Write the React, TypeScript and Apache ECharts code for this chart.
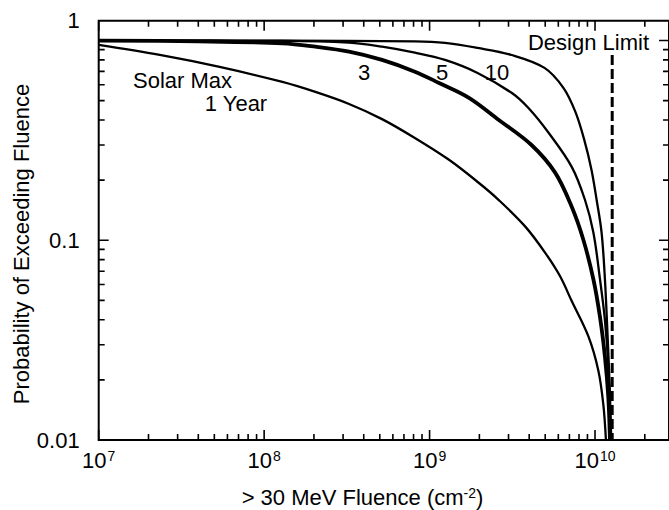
import React, { useEffect, useRef } from 'react';
import * as echarts from 'echarts';

// Fluence (cm^-2) vs probability of exceeding fluence
const curve1Year: [number, number][] = [
  [1e7, 0.95], [2.34e7, 0.846], [5.38e7, 0.737], [1.29e8, 0.62], [2.04e8, 0.5525],
  [3.26e8, 0.481], [5.16e8, 0.404], [8.15e8, 0.325], [1.31e9, 0.2527], [1.98e9, 0.194],
  [2.61e9, 0.1594], [3.79e9, 0.117], [5.0e9, 0.0865], [6.15e9, 0.066], [7.23e9, 0.0496],
  [9.12e9, 0.033], [1.047e10, 0.0223], [1.122e10, 0.0151], [1.164e10, 0.01],
];
const curve3Year: [number, number][] = [
  [1e7, 0.998], [4e7, 0.99], [1.29e8, 0.968], [2.04e8, 0.931], [3.26e8, 0.879], [5.16e8, 0.799],
  [8.15e8, 0.698], [1.14e9, 0.613], [1.73e9, 0.5164], [2.61e9, 0.401], [4.13e9, 0.2997],
  [5.74e9, 0.218], [7.23e9, 0.147], [8.5e9, 0.1005], [9.78e9, 0.0636], [1.072e10, 0.0412],
  [1.148e10, 0.0261], [1.203e10, 0.0164], [1.231e10, 0.01],
];
const curve5Year: [number, number][] = [
  [1e7, 0.998], [1.29e8, 0.995], [3.26e8, 0.975], [5.16e8, 0.931], [8.15e8, 0.869],
  [1.24e9, 0.799], [1.95e9, 0.688], [3.13e9, 0.547], [3.96e9, 0.459], [5.24e9, 0.345],
  [7.23e9, 0.233], [8.7e9, 0.159], [9.78e9, 0.109], [1.072e10, 0.0636], [1.148e10, 0.0398],
  [1.203e10, 0.0233], [1.245e10, 0.01],
];
const curve10Year: [number, number][] = [
  [1e7, 0.998], [1.29e8, 0.998], [8.15e8, 0.989], [1.24e9, 0.972], [1.95e9, 0.917],
  [3.13e9, 0.846], [4.95e9, 0.729], [6.44e9, 0.579], [7.61e9, 0.439], [8.61e9, 0.318],
  [9.51e9, 0.226], [1.023e10, 0.159], [1.096e10, 0.109], [1.148e10, 0.0636],
  [1.194e10, 0.0317], [1.227e10, 0.0181], [1.253e10, 0.01],
];
const designLimit: [number, number][] = [[1.27e10, 0.846], [1.27e10, 0.01]];

const xDecades = [7, 8, 9, 10];
const yDecades = [-2, -1, 0];
const tickMultipliers = [1, 2, 3, 4, 5, 6, 7, 8, 9];
const X_MIN = 1e7;
const X_MAX = 2.8e10;
const Y_MIN = 0.01;
const Y_MAX = 1.256;

const FONT = '"Liberation Sans", Arial, Helvetica, sans-serif';
const GRID_LEFT = 98.7;
const GRID_TOP = 20.7;
const GRID_W = 572.3;
const GRID_H = 419.3;
const MAJOR = 10;
const MINOR = 6;
const TW = 1.6;

// factor in data space that spans `px` pixels along each log axis
const kx = (px: number) => Math.pow(10, (px * Math.log10(X_MAX / X_MIN)) / GRID_W);
const ky = (px: number) => Math.pow(10, (px * Math.log10(Y_MAX / Y_MIN)) / GRID_H);

type Side = 'bottom' | 'top' | 'left' | 'right';
const GAP: any = ['-', '-'];

function tickData(side: Side): any[] {
  const out: any[] = [];
  const horizontal = side === 'bottom' || side === 'top';
  const decades = horizontal ? xDecades : yDecades;
  const maxV = horizontal ? X_MAX : Y_MAX;
  decades.forEach((d) =>
    tickMultipliers.forEach((m) => {
      const v = m * Math.pow(10, d);
      if (v > maxV) return;
      const len = m === 1 ? MAJOR : MINOR;
      if (side === 'bottom') out.push([v, Y_MIN], [v, Y_MIN * ky(len)], GAP);
      else if (side === 'top') out.push([v, Y_MAX], [v, Y_MAX / ky(len)], GAP);
      else if (side === 'left') out.push([X_MIN, v], [X_MIN * kx(len), v], GAP);
      else out.push([X_MAX, v], [X_MAX / kx(len), v], GAP);
    })
  );
  return out;
}

function tickSeries(side: Side) {
  return {
    name: `ticks-${side}`,
    type: 'line',
    data: tickData(side),
    symbol: 'none',
    connectNulls: false,
    silent: true,
    lineStyle: { color: '#000', width: TW, cap: 'butt' },
  };
}

function curve(name: string, data: [number, number][], width: number) {
  return {
    name,
    type: 'line',
    data,
    symbol: 'none',
    smooth: 0.35,
    silent: true,
    lineStyle: { color: '#000', width },
  };
}

function label(text: string, x: number, y: number, rotation = 0): any {
  return {
    type: 'text',
    x,
    y,
    rotation,
    style: {
      text,
      font: `22px ${FONT}`,
      fill: '#000',
      textAlign: 'center',
      textVerticalAlign: 'middle',
    },
  };
}

const labels: any[] = [
  label('Probability of Exceeding Fluence', 21, 244, Math.PI / 2),
  {
    type: 'text',
    x: 362.5,
    y: 497,
    style: {
      text: '{a|> 30 MeV Fluence (cm}{s|-2}{a|)}',
      rich: {
        a: { fontSize: 22, fontFamily: FONT, fill: '#000', verticalAlign: 'bottom' },
        s: { fontSize: 14, fontFamily: FONT, fill: '#000', verticalAlign: 'top' },
      },
      fill: '#000',
      textAlign: 'center',
      textVerticalAlign: 'middle',
    },
  },
  label('Solar Max', 182.5, 80),
  label('1 Year', 236, 103),
  label('3', 364, 72),
  label('5', 442, 72),
  label('10', 497, 72.5),
  label('Design Limit', 588.5, 42),
];

const option: any = {
  animation: false,
  backgroundColor: '#fff',
  textStyle: { fontFamily: FONT },
  tooltip: { show: false },
  grid: {
    left: GRID_LEFT,
    top: GRID_TOP,
    width: GRID_W,
    height: GRID_H,
    show: true,
    borderColor: '#000',
    borderWidth: 2,
    backgroundColor: 'transparent',
  },
  xAxis: {
    type: 'log',
    min: X_MIN,
    max: X_MAX,
    axisLine: { show: false },
    axisTick: { show: false },
    splitLine: { show: false },
    axisLabel: {
      margin: 9,
      showMinLabel: true,
      showMaxLabel: false,
      color: '#000',
      formatter: (v: number) => {
        const l = Math.log10(v);
        const r = Math.round(l);
        if (Math.abs(l - r) < 1e-6) return `{b|10}{s|${r}}`;
        return '';
      },
      rich: {
        b: { fontSize: 22, fontFamily: FONT, color: '#000', verticalAlign: 'bottom' },
        s: { fontSize: 14, fontFamily: FONT, color: '#000', verticalAlign: 'top', padding: [0, 0, 0, 1] },
      },
    },
  },
  yAxis: {
    type: 'log',
    min: Y_MIN,
    max: Y_MAX,
    axisLine: { show: false },
    axisTick: { show: false },
    splitLine: { show: false },
    axisLabel: {
      margin: 19,
      showMinLabel: true,
      showMaxLabel: true,
      color: '#000',
      fontSize: 22,
      fontFamily: FONT,
      formatter: (v: number) => {
        if (Math.abs(v - 0.01) < 1e-6) return '0.01';
        if (Math.abs(v - 0.1) < 1e-5) return '0.1';
        if (v > 1.1) return '1';
        return '';
      },
    },
  },
  graphic: labels,
  series: [
    tickSeries('bottom'),
    tickSeries('top'),
    tickSeries('left'),
    tickSeries('right'),
    curve('Solar Max 1 Year', curve1Year, 2.3),
    curve('3', curve3Year, 3.8),
    curve('5', curve5Year, 2.3),
    curve('10', curve10Year, 2.3),
    {
      name: 'Design Limit',
      type: 'line',
      data: designLimit,
      symbol: 'none',
      silent: true,
      lineStyle: { color: '#000', width: 3, type: [10, 4] },
    },
  ],
};

export default function App() {
  const ref = useRef<HTMLDivElement>(null);
  useEffect(() => {
    if (!ref.current) return;
    const chart = echarts.init(ref.current, null, { renderer: 'svg' });
    chart.setOption(option);
    return () => chart.dispose();
  }, []);
  return (
    <div
      ref={ref}
      style={{ position: 'absolute', left: 0, top: 0, width: 669, height: 510, background: '#fff' }}
    />
  );
}
